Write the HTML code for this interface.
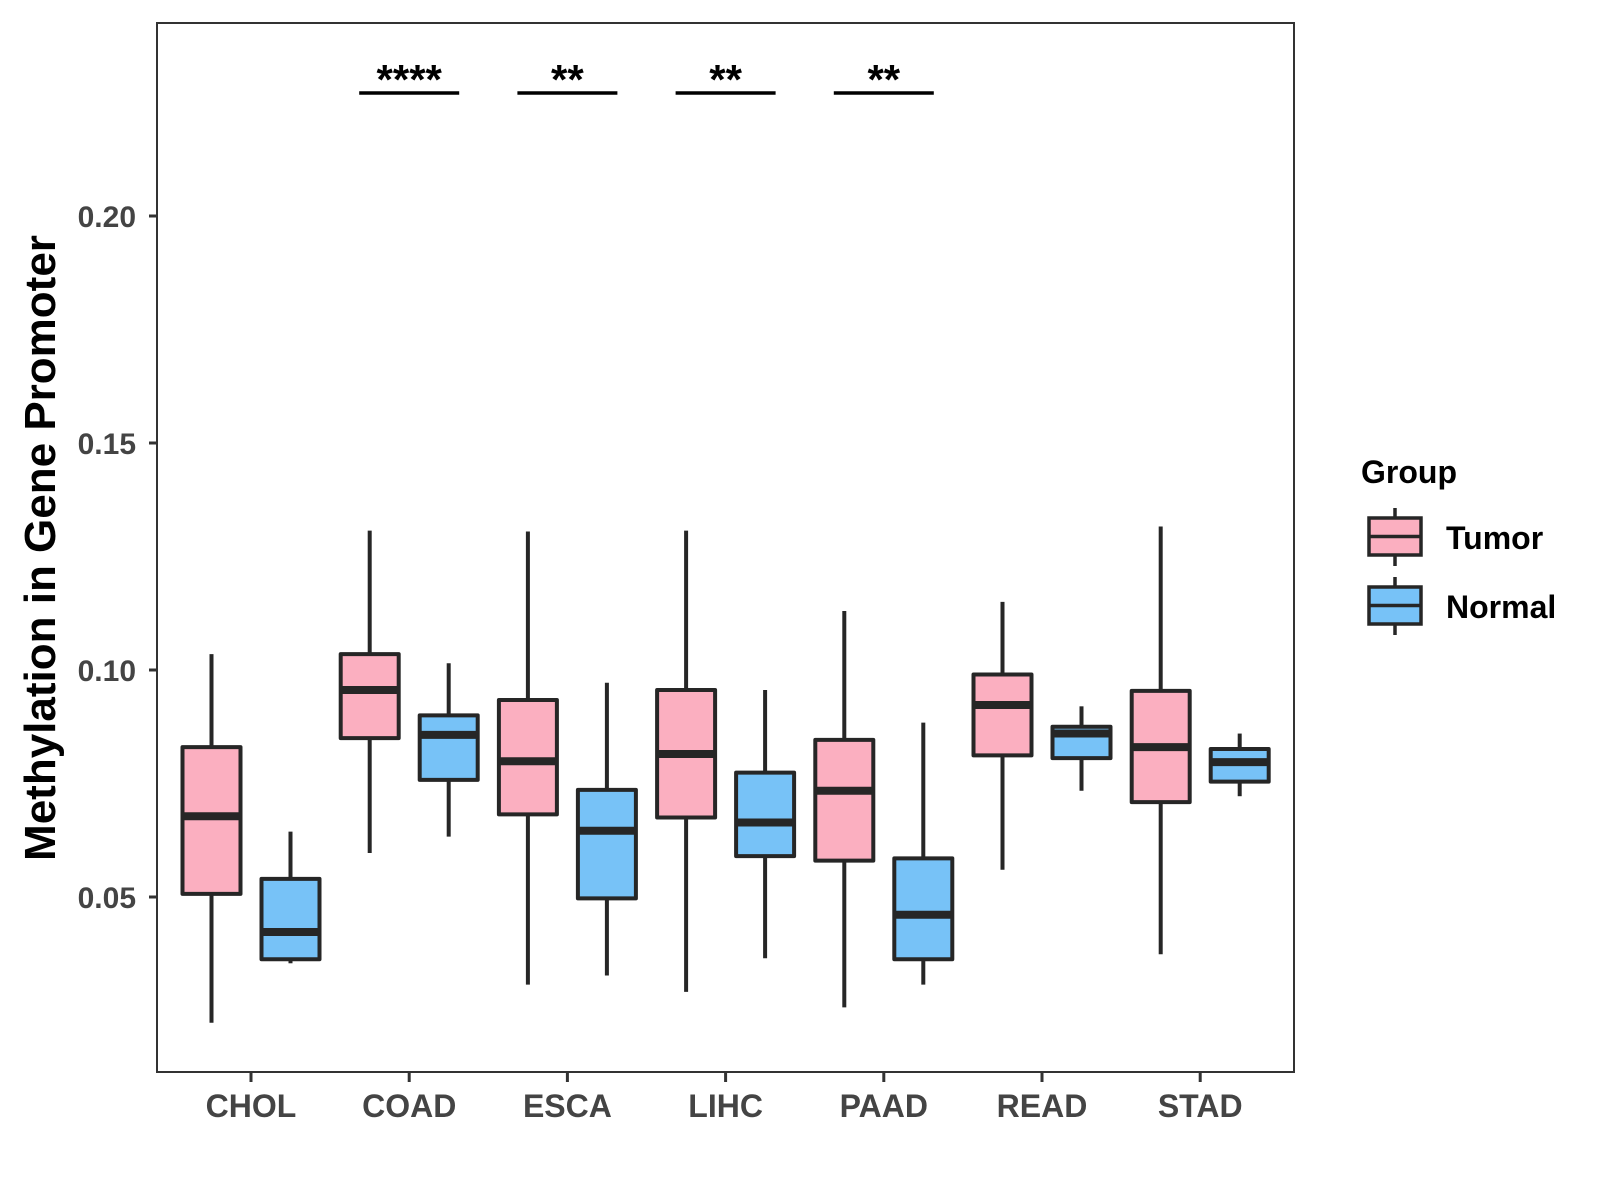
<!DOCTYPE html>
<html><head><meta charset="utf-8"><style>
html,body{margin:0;padding:0;background:#fff;}
svg{display:block;font-family:"Liberation Sans",Arial,sans-serif;}
</style></head><body>
<svg id="chart" width="1600" height="1200" viewBox="0 0 1600 1200" xmlns="http://www.w3.org/2000/svg"></svg>
<script>
const categories = ["CHOL","COAD","ESCA","LIHC","PAAD","READ","STAD"];
const groups = ["Tumor","Normal"];
// [low whisker, q1, median, q3, high whisker]
const tumorStats = [
  [0.0223,0.0507,0.0678,0.0830,0.1035],
  [0.0597,0.0850,0.0956,0.1035,0.1307],
  [0.0307,0.0682,0.0799,0.0934,0.1305],
  [0.0291,0.0675,0.0815,0.0956,0.1307],
  [0.0257,0.0580,0.0734,0.0846,0.1130],
  [0.0560,0.0812,0.0923,0.0990,0.1150],
  [0.0374,0.0709,0.0830,0.0954,0.1316]
];
const normalStats = [
  [0.0354,0.0363,0.0423,0.0540,0.0644],
  [0.0633,0.0758,0.0857,0.0900,0.1015],
  [0.0327,0.0497,0.0646,0.0736,0.0972],
  [0.0365,0.0590,0.0664,0.0774,0.0956],
  [0.0307,0.0363,0.0461,0.0585,0.0884],
  [0.0734,0.0806,0.0860,0.0875,0.0920],
  [0.0722,0.0754,0.0797,0.0826,0.0860]
];
const yTicks = [0.05,0.10,0.15,0.20];
const yTickLabels = ["0.05","0.10","0.15","0.20"];
const sigCategories = ["COAD","ESCA","LIHC","PAAD"];
const sigLabels = ["****","**","**","**"];

const NS="http://www.w3.org/2000/svg";
const svg=document.getElementById('chart');
const L=157,R=1294,T=23,B=1072;
function y(v){return 670+(0.10-v)*4540;}
function x(i){return 251+i*158.2;}
const fills={Tumor:"#FBAFC0",Normal:"#77C2F7"};
const stroke="#262626";
function el(tag,attrs,parent){const e=document.createElementNS(NS,tag);for(const k in attrs)e.setAttribute(k,attrs[k]);(parent||svg).appendChild(e);return e;}

const panel=el('rect',{x:L,y:T,width:R-L,height:B-T,fill:'none',stroke:'#333','stroke-width':2});



yTicks.forEach((v,i)=>{
  const t=el('line',{x1:L-8,x2:L,y1:y(v),y2:y(v),stroke:'#333','stroke-width':3});
  
  
  const lb=el('text',{x:L-21,y:y(v)+11,'text-anchor':'end','font-size':30,'font-weight':'bold',fill:'#444'});
  lb.textContent=yTickLabels[i];
  
  
});
categories.forEach((c,i)=>{
  const t=el('line',{x1:x(i),x2:x(i),y1:B,y2:B+10,stroke:'#333','stroke-width':3});
  
  
  const lb=el('text',{x:x(i),y:B+45,'text-anchor':'middle','font-size':32,'font-weight':'bold',fill:'#444'});
  lb.textContent=c;
  
  
});

function drawBox(cx,s,fill,name){
  const g=el('g',{});
  
  
  el('line',{x1:cx,x2:cx,y1:y(s[4]),y2:y(s[3]),stroke:stroke,'stroke-width':4},g);
  el('line',{x1:cx,x2:cx,y1:y(s[1]),y2:y(s[0]),stroke:stroke,'stroke-width':4},g);
  el('rect',{x:cx-29,y:y(s[3]),width:58,height:y(s[1])-y(s[3]),fill:fill,stroke:stroke,'stroke-width':4,'stroke-linejoin':'round'},g);
  el('line',{x1:cx-29,x2:cx+29,y1:y(s[2]),y2:y(s[2]),stroke:stroke,'stroke-width':8},g);
}
categories.forEach((c,i)=>{
  drawBox(x(i)-39.5,tumorStats[i],fills.Tumor,'box-tumor-'+c.toLowerCase());
  drawBox(x(i)+39.5,normalStats[i],fills.Normal,'box-normal-'+c.toLowerCase());
});

sigCategories.forEach((c,k)=>{
  const i=categories.indexOf(c);
  const ln=el('line',{x1:x(i)-50,x2:x(i)+50,y1:93,y2:93,stroke:'#000','stroke-width':3.5});
  
  
  const tx=el('text',{x:x(i),y:94,'text-anchor':'middle','font-size':42,'font-weight':'bold',fill:'#000'});
  tx.textContent=sigLabels[k];
  
  
});

const yt=el('text',{x:0,y:0,'text-anchor':'middle','font-size':44,'font-weight':'bold',fill:'#000',transform:'translate(55,548) rotate(-90)'});
yt.textContent='Methylation in Gene Promoter';



const lt=el('text',{x:1361,y:483,'font-size':32,'font-weight':'bold',fill:'#000'});
lt.textContent='Group';


groups.forEach((gname,k)=>{
  const top=518+k*69;
  const g=el('g',{});
  
  
  el('line',{x1:1395,x2:1395,y1:top-10,y2:top+48,stroke:stroke,'stroke-width':3.5},g);
  el('rect',{x:1369,y:top,width:52,height:37,fill:fills[gname],stroke:stroke,'stroke-width':3.5},g);
  el('line',{x1:1369,x2:1421,y1:top+18.5,y2:top+18.5,stroke:stroke,'stroke-width':3.5},g);
  const t=el('text',{x:1446,y:top+31,'font-size':32,'font-weight':'bold',fill:'#000'},g);
  t.textContent=gname;
});
</script>
</body></html>
